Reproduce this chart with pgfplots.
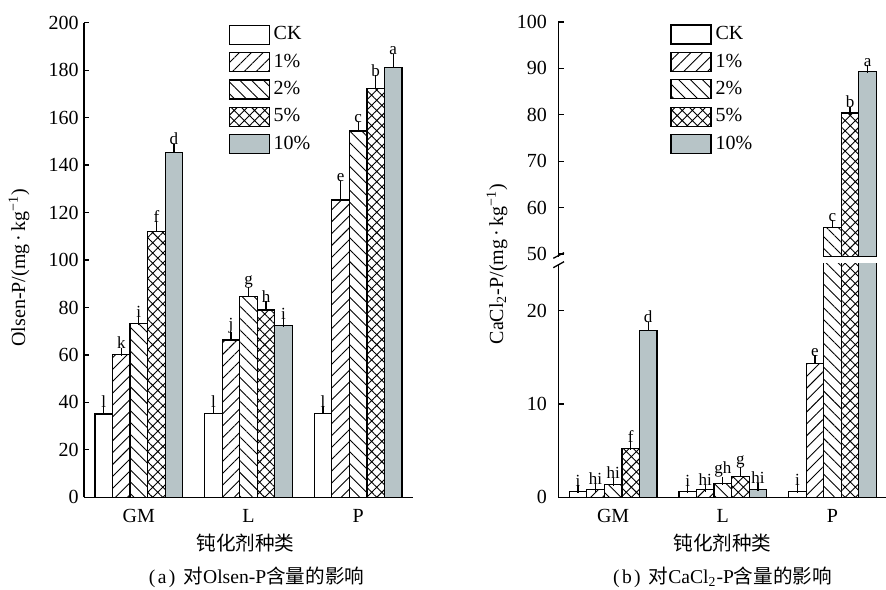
\documentclass[border=0pt]{standalone}
\usepackage{fontspec}
\setmainfont{Liberation Serif}
\newfontfamily\cjk{Noto Sans CJK SC}
\usepackage{pgfplots}
\usepackage{pgfplotstable}
\pgfplotsset{compat=1.18}
\usetikzlibrary{patterns.meta}

\definecolor{tenfill}{RGB}{183,196,199}

% ---------- Olsen-P (mg/kg): one table per application rate ----------
\pgfplotstableread{
x y err lab
0 35.1 1.5 l
1 35.2 1.5 l
2 35.2 1.4 l
}\olsenCK
\pgfplotstableread{
x y err lab
0 60.1 1.3 k
1 66.3 1.7 j
2 125.3 6.5 e
}\olsenA
\pgfplotstableread{
x y err lab
0 73.3 1.0 i
1 84.5 2.5 g
2 154.4 2.0 c
}\olsenB
\pgfplotstableread{
x y err lab
0 112.1 2.5 f
1 78.9 2.0 h
2 172.4 3.7 b
}\olsenC
\pgfplotstableread{
x y err lab
0 145.2 2.2 d
1 72.5 1.1 i
2 181.2 4.0 a
}\olsenD

% ---------- CaCl2-P (mg/kg), lower part of the broken axis ----------
\pgfplotstableread{
x y err lab
0 0.6 0.25 i
1 0.6 0.25 i
2 0.6 0.3 i
}\calCK
\pgfplotstableread{
x y err lab
0 0.8 0.25 hi
1 0.85 0.1 hi
2 14.3 0.5 e
}\calA
\pgfplotstableread{
x y err lab
0 1.35 0.3 hi
1 1.5 0.3 gh
2 55.7 0.7 {}
}\calB
\pgfplotstableread{
x y err lab
0 5.2 0.3 f
1 2.2 0.6 g
2 80.4 0.5 {}
}\calC
\pgfplotstableread{
x y err lab
0 17.9 0.5 d
1 0.85 0.3 hi
2 89.4 0.4 {}
}\calD

% ---------- CaCl2-P, upper part of the broken axis ----------
\pgfplotstableread{
x y err lab
2 55.7 0.7 c
}\calBhi
\pgfplotstableread{
x y err lab
2 80.4 0.5 b
}\calChi
\pgfplotstableread{
x y err lab
2 89.4 0.4 a
}\calDhi

% each rate is offset inside its group by x expr; bars are 0.16 x-units wide
\pgfplotsset{
  boxlegend/.style={legend image code/.code={%
      \draw[##1] (0pt,-4.75pt) rectangle (20pt,4.75pt);}},
  barset/.style={
    ybar, bar width=8.77pt, bar shift=0pt,
    draw=black, line width=0.6pt,
    error bars/y dir=plus,
    error bars/y explicit,
    error bars/error bar style={line width=0.6pt, draw=black, fill=none},
    error bars/error mark options={line width=0.6pt, mark size=2pt, draw=black},
    point meta=explicit symbolic,
    nodes near coords={\pgfplotspointmeta},
    visualization depends on={\thisrow{err} \as \errval},
    every node near coord/.append style={anchor=south, inner sep=1.2pt,
      font=\fontsize{8.5}{9}\selectfont, text=black,
      shift={(axis direction cs:0,\errval)}},
    boxlegend,
  },
  ckfill/.style={fill=white},
  onefill/.style={pattern={Lines[angle=45,distance=4.2pt,line width=0.45pt]}},
  twofill/.style={pattern={Lines[angle=-45,distance=4.2pt,line width=0.45pt]}},
  fivefill/.style={pattern={Hatch[angle=45,distance=3.6pt,line width=0.45pt]}},
  tenfill/.style={fill=tenfill},
  ck/.style={barset, ckfill},
  p1/.style={barset, onefill},
  p2/.style={barset, twofill},
  p5/.style={barset, fivefill},
  p10/.style={barset, tenfill},
  panel/.style={
    scale only axis, width=164.5pt,
    xmin=-0.5, xmax=2.5,
    axis x line=bottom, axis y line=left,
    axis line style={-, line width=0.65pt, black},
    xtick={0,1,2}, xticklabels={GM,L,P},
    xtick style={draw=none},
    ytick style={line width=0.6pt, black},
    major tick length=2.7pt, tick align=inside,
    tick label style={font=\fontsize{10}{12}\selectfont},
    /pgf/number format/assume math mode=true,
    yticklabel style={inner sep=0pt, xshift=-2.5pt},
    xticklabel style={inner sep=0pt, yshift=-6pt},
    legend style={draw=none, fill=none, font=\fontsize{10}{12}\selectfont,
      inner sep=0pt, row sep=3.6pt, column sep=2pt,
      nodes={inner sep=0pt}},
    legend cell align=left,
  },
}

\begin{document}
\begin{tikzpicture}
\useasboundingbox (0,0) rectangle (443pt,294.5pt);

% (a) Olsen-P
\begin{axis}[
  panel,
  at={(42pt,45.85pt)}, anchor=south west,
  height=237.3pt,
  ymin=0, ymax=200, ytick={0,20,...,200},
  legend style={at={(0.438,0.997)}, anchor=north west},
]
\addplot[ck]  table[x expr=\thisrow{x}-0.32,y=y,y error=err,meta=lab]{\olsenCK};
\addplot[p1]  table[x expr=\thisrow{x}-0.16,y=y,y error=err,meta=lab]{\olsenA};
\addplot[p2]  table[x expr=\thisrow{x},y=y,y error=err,meta=lab]{\olsenB};
\addplot[p5]  table[x expr=\thisrow{x}+0.16,y=y,y error=err,meta=lab]{\olsenC};
\addplot[p10] table[x expr=\thisrow{x}+0.32,y=y,y error=err,meta=lab]{\olsenD};
\legend{CK,1\%,2\%,5\%,10\%}
\end{axis}

% (b) CaCl2-P, lower segment 0--25
\begin{axis}[
  panel,
  at={(279.15pt,45.85pt)}, anchor=south west,
  height=116.65pt,
  ymin=0, ymax=25, ytick={0,10,20},
  yticklabel style={xshift=-3pt},
]
\addplot[ck]  table[x expr=\thisrow{x}-0.32,y=y,y error=err,meta=lab]{\calCK};
\addplot[p1]  table[x expr=\thisrow{x}-0.16,y=y,y error=err,meta=lab]{\calA};
\addplot[p2]  table[x expr=\thisrow{x},y=y,y error=err,meta=lab]{\calB};
\addplot[p5]  table[x expr=\thisrow{x}+0.16,y=y,y error=err,meta=lab]{\calC};
\addplot[p10] table[x expr=\thisrow{x}+0.32,y=y,y error=err,meta=lab]{\calD};
\end{axis}

% (b) CaCl2-P, upper segment 50--100
\begin{axis}[
  panel,
  at={(279.15pt,166.1pt)}, anchor=south west,
  height=117.4pt,
  axis x line=none,
  ymin=49.4, ymax=100, ytick={50,60,...,100},
  yticklabel style={xshift=-3pt},
  legend style={at={(0.3395,0.9915)}, anchor=north west},
]
\addlegendimage{boxlegend, draw=black, line width=0.6pt, ckfill}
\addlegendimage{boxlegend, draw=black, line width=0.6pt, onefill}
\addplot[p2]  table[x expr=\thisrow{x},y=y,y error=err,meta=lab]{\calBhi};
\addplot[p5]  table[x expr=\thisrow{x}+0.16,y=y,y error=err,meta=lab]{\calChi};
\addplot[p10] table[x expr=\thisrow{x}+0.32,y=y,y error=err,meta=lab]{\calDhi};
\legend{CK,1\%,2\%,5\%,10\%}
\end{axis}

% axis break marks
\draw[line width=0.65pt] (276.65pt,165.35pt) -- (282pt,168.15pt);
\draw[line width=0.65pt] (276.65pt,160.65pt) -- (282pt,163.65pt);

% axis titles and captions
\node[rotate=90, inner sep=0pt, font=\fontsize{10}{12}\selectfont]
  at (9.5pt,160.75pt) {Olsen-P/(mg\,·\,kg\textsuperscript{−1})};
\node[rotate=90, inner sep=0pt, font=\fontsize{10}{12}\selectfont]
  at (248.5pt,162.5pt) {CaCl\textsubscript{2}-P/(mg\,·\,kg\textsuperscript{−1})};

\node[inner sep=0pt, font=\cjk\fontsize{9.8}{12}\selectfont]
  at (122.75pt,22.85pt) {钝化剂种类};
\node[inner sep=0pt, font=\cjk\fontsize{9.8}{12}\selectfont]
  at (361.25pt,22.85pt) {钝化剂种类};

\node[inner sep=0pt, font=\fontsize{9.8}{12}\selectfont]
  at (128.3pt,5.6pt) {(\kern1.2pt a\kern1.2pt)\kern4pt{\cjk 对}Olsen-P{\cjk 含量的影响}};
\node[inner sep=0pt, font=\fontsize{9.8}{12}\selectfont]
  at (361.25pt,5.6pt) {(\kern1.2pt b\kern1.2pt)\kern4pt{\cjk 对}CaCl\textsubscript{2}-P{\cjk 含量的影响}};
\end{tikzpicture}
\end{document}
